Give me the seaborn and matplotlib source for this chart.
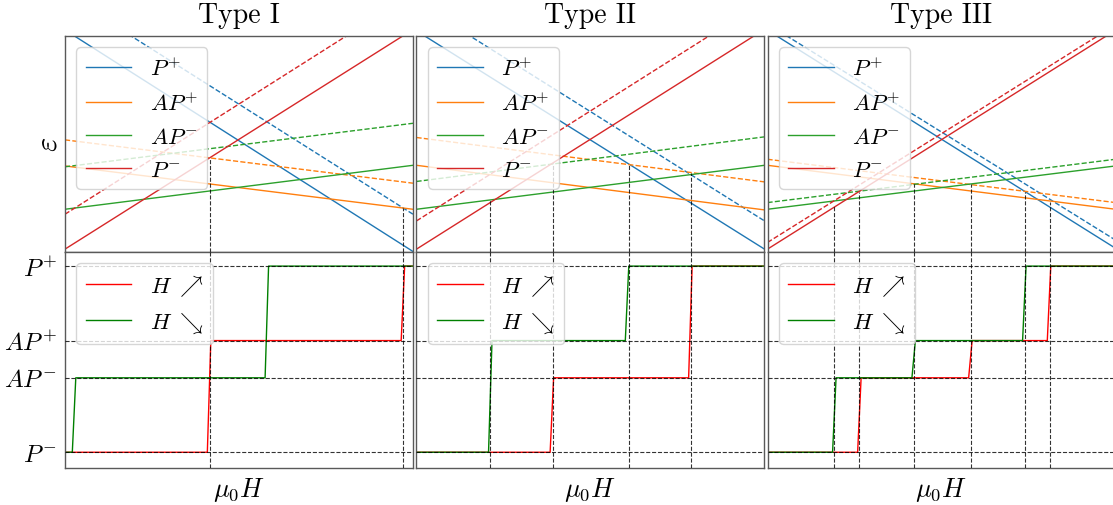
import numpy as np
import matplotlib
matplotlib.use("Agg")
import matplotlib.pyplot as plt
import seaborn as sns

plt.rcParams["font.family"] = "serif"
plt.rcParams["font.serif"] = ["cmr10", "DejaVu Serif"]
plt.rcParams["mathtext.fontset"] = "cm"
plt.rcParams["axes.unicode_minus"] = False
plt.rcParams["axes.formatter.use_mathtext"] = True
plt.rcParams["axes.edgecolor"] = "0.35"
plt.rcParams["axes.linewidth"] = 1.0

types = ["Type I", "Type II", "Type III"]
state_labels = [r"$P^{\!+}$", r"$AP^{\!+}$", r"$AP^{\!-}$", r"$P^{\!-}$"]
state_colors = ["tab:blue", "tab:orange", "tab:green", "tab:red"]
x_ends = [0.0, 1.0]

# energies at the left / right end of the field range, order P+, AP+, AP-, P-
solid_I = [[1.028, 0.000], [0.397, 0.196], [0.196, 0.400], [0.011, 1.030]]
dashed_I = [[1.194, 0.173], [0.518, 0.317], [0.393, 0.595], [0.173, 1.196]]
solid_II = [[1.024, 0.011], [0.400, 0.193], [0.196, 0.400], [0.011, 1.031]]
dashed_II = [[1.156, 0.142], [0.529, 0.323], [0.325, 0.532], [0.142, 1.163]]
solid_III = [[1.027, 0.015], [0.400, 0.196], [0.196, 0.397], [0.011, 1.027]]
dashed_III = [[1.056, 0.053], [0.428, 0.227], [0.227, 0.428], [0.042, 1.052]]

# switching fields (dotted verticals) and where they start in the energy panel
vline_x_I = [0.416, 0.971]
vline_top_I = [0.436, 0.202]
vline_x_II = [0.212, 0.392, 0.610, 0.788]
vline_top_II = [0.243, 0.410, 0.402, 0.363]
vline_x_III = [0.191, 0.264, 0.420, 0.585, 0.740, 0.812]
vline_top_III = [0.209, 0.278, 0.312, 0.312, 0.277, 0.232]

# state levels for the hysteresis panel
level_labels = [r"$P^{\!+}$", r"$AP^{\!+}$", r"$AP^{\!-}$", r"$P^{\!-}$"]
level_values = [1.0, 0.2, -0.2, -1.0]

# H increasing (red) / decreasing (green): switching fields and states
up_fields_I = [0.414, 0.971]
up_states_I = [-1.0, 0.2, 1.0]
down_fields_I = [0.026, 0.580]
down_states_I = [-1.0, -0.2, 1.0]

up_fields_II = [0.389, 0.787]
up_states_II = [-1.0, -0.2, 1.0]
down_fields_II = [0.212, 0.605]
down_states_II = [-1.0, 0.2, 1.0]

up_fields_III = [0.264, 0.583, 0.809]
up_states_III = [-1.0, -0.2, 0.2, 1.0]
down_fields_III = [0.192, 0.420, 0.738]
down_states_III = [-1.0, -0.2, 0.2, 1.0]

solids = [solid_I, solid_II, solid_III]
dasheds = [dashed_I, dashed_II, dashed_III]
vxs = [vline_x_I, vline_x_II, vline_x_III]
vtops = [vline_top_I, vline_top_II, vline_top_III]
ups = [(up_fields_I, up_states_I), (up_fields_II, up_states_II), (up_fields_III, up_states_III)]
downs = [(down_fields_I, down_states_I), (down_fields_II, down_states_II), (down_fields_III, down_states_III)]


def branch(fields, states, w=0.005):
    xs = [0.0]
    ys = [states[0]]
    for f, s0, s1 in zip(fields, states[:-1], states[1:]):
        xs += [f - w, f + w]
        ys += [s0, s1]
    xs.append(1.0)
    ys.append(states[-1])
    return np.array(xs), np.array(ys)


W, H = 1113, 506
fig = plt.figure(figsize=(W / 100, H / 100), dpi=100)
lefts = [65, 416.5, 767.5]
ax_w = 348

dot_kw = dict(ls="--", color="k", lw=0.8, alpha=0.8, zorder=3)

for i in range(3):
    ax_top = fig.add_axes([lefts[i] / W, (H - 252.5) / H, ax_w / W, 215.5 / H])
    ax_bot = fig.add_axes([lefts[i] / W, (H - 469) / H, ax_w / W, 216.5 / H])

    # energy levels
    handles = []
    for k in range(4):
        sns.lineplot(x=x_ends, y=solids[i][k], ax=ax_top, color=state_colors[k], lw=1,
                     label=state_labels[k], legend=False)
        handles.append(ax_top.lines[-1])
        sns.lineplot(x=x_ends, y=dasheds[i][k], ax=ax_top, color=state_colors[k], lw=1,
                     linestyle="--", legend=False)
    ax_top.vlines(vxs[i], 0, vtops[i], **dot_kw)
    ax_top.set_xlim(0, 1)
    ax_top.set_ylim(0, 1)
    ax_top.set_xticks([])
    ax_top.set_yticks([])
    ax_top.set_xlabel("")
    ax_top.set_title(types[i], fontsize=20, pad=10)
    ax_top.legend(handles=handles, labels=state_labels, loc="upper left", fontsize=16.5,
                  labelspacing=0.55)

    # hysteresis branches
    xu, yu = branch(*ups[i])
    xd, yd = branch(*downs[i])
    sns.lineplot(x=xu, y=yu, ax=ax_bot, color="red", lw=1, label=r"$H\ \nearrow$",
                 legend=False, sort=False)
    sns.lineplot(x=xd, y=yd, ax=ax_bot, color="green", lw=1, label=r"$H\ \searrow$",
                 legend=False, sort=False)
    for v in level_values:
        ax_bot.axhline(v, **dot_kw)
    for v in vxs[i]:
        ax_bot.axvline(v, **dot_kw)
    ax_bot.set_xlim(0, 1)
    ax_bot.set_ylim(-1.169, 1.157)
    ax_bot.set_xticks([])
    ax_bot.set_yticks(level_values)
    ax_bot.tick_params(axis="y", length=0, pad=6, labelsize=18)
    if i == 0:
        ax_bot.set_yticklabels(level_labels)
        ax_top.set_ylabel(r"$\varepsilon$", fontsize=22, labelpad=2)
    else:
        ax_bot.set_yticklabels([])
    ax_bot.set_xlabel(r"$\mu_0 H$", fontsize=19, labelpad=5)
    ax_bot.legend(loc="upper left", fontsize=16.5, labelspacing=0.55)

fig.savefig("out.png", dpi=100)
